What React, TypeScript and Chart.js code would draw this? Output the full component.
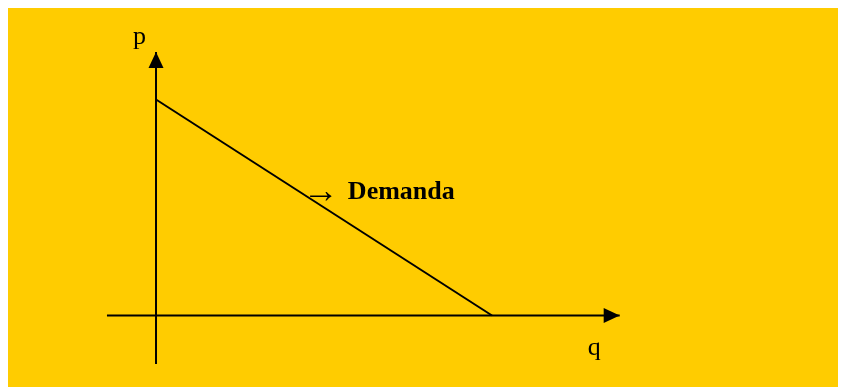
import React, { useEffect, useRef } from "react";
import { Chart, registerables } from "chart.js";

Chart.register(...registerables);

// Demand curve (q, p)
const demandQ = [0, 10];
const demandP = [10, 0];
// Axes extents (data units)
const qAxisQ = [-1.46, 13.8];
const qAxisP = [0, 0];
const pAxisQ = [0, 0];
const pAxisP = [-2.25, 12.2];
// Labels
const axisLabels = ["p", "q"];
const axisLabelQ = [-0.49, 13.04];
const axisLabelP = [12.59, -1.83];
const curveLabel = "Demanda";
const curveArrow = "\u2192";
const curveArrowQ = 4.375;
const curveArrowP = 5.25;
const curveLabelQ = 5.71;
const curveLabelP = 5.39;

const BG = "#FFCC00";
const SERIF = '"Liberation Serif", "Times New Roman", "DejaVu Serif", serif';

const pts = (xs: number[], ys: number[]) => xs.map((x, i) => ({ x, y: ys[i] }));

const bgPlugin = {
  id: "bg",
  beforeDraw(chart: any) {
    const { ctx, width, height } = chart;
    ctx.save();
    ctx.fillStyle = BG;
    ctx.fillRect(0, 0, width, height);
    ctx.restore();
  },
};

const arrowPlugin = {
  id: "arrows",
  afterDatasetsDraw(chart: any) {
    const { ctx } = chart;
    chart.data.datasets.forEach((ds: any, i: number) => {
      if (!ds.arrow) return;
      const meta = chart.getDatasetMeta(i);
      const n = meta.data.length;
      const a = meta.data[n - 2];
      const b = meta.data[n - 1];
      const ang = Math.atan2(b.y - a.y, b.x - a.x);
      const len = 16;
      const hw = 7.5;
      ctx.save();
      ctx.translate(b.x, b.y);
      ctx.rotate(ang);
      ctx.beginPath();
      ctx.moveTo(0, 0);
      ctx.lineTo(-len, -hw);
      ctx.lineTo(-len, hw);
      ctx.closePath();
      ctx.fillStyle = "#000";
      ctx.fill();
      ctx.restore();
    });
  },
};

const textPlugin = {
  id: "texts",
  afterDraw(chart: any) {
    const { ctx, scales } = chart;
    const xs = scales.x;
    const ys = scales.y;
    ctx.save();
    ctx.fillStyle = "#000";
    ctx.textBaseline = "alphabetic";
    ctx.textAlign = "center";
    ctx.font = `26px ${SERIF}`;
    axisLabels.forEach((t, i) => {
      ctx.fillText(t, xs.getPixelForValue(axisLabelQ[i]), ys.getPixelForValue(axisLabelP[i]));
    });
    ctx.textAlign = "left";
    ctx.font = `36px ${SERIF}`;
    ctx.fillText(curveArrow, xs.getPixelForValue(curveArrowQ), ys.getPixelForValue(curveArrowP));
    ctx.font = `bold 26px ${SERIF}`;
    ctx.fillText(curveLabel, xs.getPixelForValue(curveLabelQ), ys.getPixelForValue(curveLabelP));
    ctx.restore();
  },
};

export default function App() {
  const ref = useRef<HTMLCanvasElement>(null);
  useEffect(() => {
    document.body.style.overflow = "hidden";
    const canvas = ref.current;
    if (!canvas) return;
    const lineDs = (data: any[], extra: any = {}) => ({
      data,
      borderColor: "#000",
      borderWidth: 2,
      pointRadius: 0,
      pointHoverRadius: 0,
      showLine: true,
      fill: false,
      tension: 0,
      ...extra,
    });
    const chart = new Chart(canvas, {
      type: "scatter",
      data: {
        datasets: [
          lineDs(pts(qAxisQ, qAxisP), { arrow: true }),
          lineDs(pts(pAxisQ, pAxisP), { arrow: true }),
          lineDs(pts(demandQ, demandP)),
        ] as any,
      },
      options: {
        animation: false,
        responsive: false,
        events: [],
        layout: { padding: 0 },
        plugins: { legend: { display: false }, tooltip: { enabled: false } },
        scales: {
          x: { type: "linear", display: false, min: -4.405, max: 20.535 },
          y: { type: "linear", display: false, min: -3.31, max: 14.236 },
        },
      },
      plugins: [bgPlugin, arrowPlugin, textPlugin],
    });
    return () => chart.destroy();
  }, []);
  return <canvas ref={ref} width={838} height={379} style={{ display: "block" }} />;
}
